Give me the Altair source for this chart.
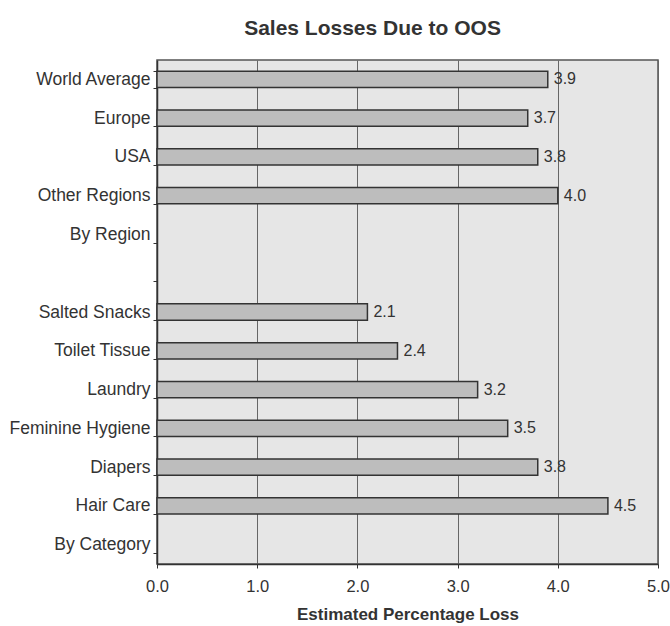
import altair as alt
import pandas as pd

categories = ["World Average", "Europe", "USA", "Other Regions", "By Region", " ",
              "Salted Snacks", "Toilet Tissue", "Laundry", "Feminine Hygiene",
              "Diapers", "Hair Care", "By Category"]
values = [3.9, 3.7, 3.8, 4.0, None, None, 2.1, 2.4, 3.2, 3.5, 3.8, 4.5, None]

df = pd.DataFrame({"cat": categories, "val": values})
bars_df = df.dropna()

font = "Liberation Sans"

y_enc = alt.Y("cat:N", sort=categories, title=None,
              scale=alt.Scale(domain=categories, paddingInner=0.58, paddingOuter=0.29),
              axis=alt.Axis(tickBand="extent", labelFontSize=17.5, labelColor="#333",
                            labelFont=font, tickColor="#333", tickSize=4,
                            domainColor="#333", domainWidth=1.5, labelPadding=3,
                            grid=False))

x_enc = alt.X("val:Q", title="Estimated Percentage Loss",
              scale=alt.Scale(domain=[0, 5], nice=False),
              axis=alt.Axis(values=[0, 1, 2, 3, 4, 5], format=".1f", labelFontSize=16.5,
                            labelFont=font, labelColor="#333", titleFont=font,
                            titleFontSize=17, titleColor="#333", titleFontWeight="bold",
                            titlePadding=12, labelPadding=10, tickSize=4, labelFlush=False,
                            tickColor="#333", domainColor="#333", domainWidth=1.5,
                            grid=True, gridColor="#666", gridWidth=1))

base = alt.Chart(df).encode(y=y_enc)

# invisible layer to keep all categories
frame = base.mark_point(opacity=0).encode(x=alt.value(0))

bars = alt.Chart(bars_df).mark_bar(color="#bdbdbd", stroke="#333", strokeWidth=1.5).encode(
    y=y_enc, x=x_enc)

labels = alt.Chart(bars_df).mark_text(align="left", dx=6, fontSize=16, color="#333",
                                      font=font).encode(
    y=y_enc, x=alt.X("val:Q"), text=alt.Text("val:Q", format=".1f"))

chart = alt.layer(frame, bars, labels).properties(
    width=501, height=504,
    title=alt.Title("Sales Losses Due to OOS", fontSize=21, font=font, fontWeight="bold",
                    color="#333", anchor="middle", dx=-35, offset=12),
    autosize=alt.AutoSizeParams(type="none"),
    padding={"left": 157, "top": 60, "right": 12, "bottom": 62},
    background="white",
).configure_view(fill="#e6e6e6", stroke="#555", strokeWidth=1.5)

chart.save("out.html", embed_options={"renderer": "svg", "actions": False})
